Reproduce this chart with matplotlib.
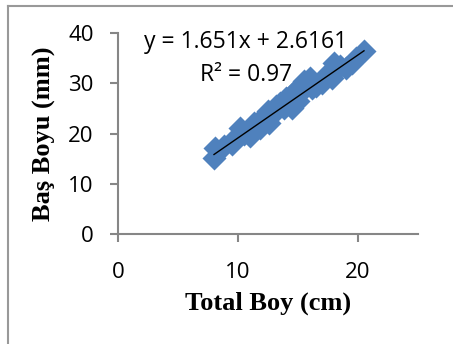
import matplotlib
matplotlib.use("Agg")
import matplotlib.pyplot as plt
from matplotlib.lines import Line2D
import numpy as np

total_boy = [8.0, 8.1, 8.8, 9.5, 9.9, 10.2, 10.5, 11.0, 11.3, 11.5, 11.8, 12.0, 12.3,
             12.5, 12.6, 13.0, 13.2, 13.5, 13.8, 14.0, 14.3, 14.5, 14.6, 15.0, 15.0,
             15.3, 15.5, 16.0, 16.2, 16.5, 17.0, 17.3, 17.5, 17.8, 18.0, 18.3, 18.5,
             19.0, 19.5, 19.8, 20.5]
bas_boyu = [15.2, 17.2, 17.5, 18.0, 19.5, 21.0, 20.0, 19.5, 22.0, 21.5, 21.0, 23.0, 22.5,
            24.5, 22.0, 24.0, 25.5, 26.0, 25.0, 27.0, 26.5, 25.0, 28.0, 29.0, 26.5,
            28.5, 30.5, 31.0, 29.0, 29.5, 30.0, 31.5, 32.0, 31.0, 34.0, 33.0, 33.5,
            33.0, 34.0, 35.0, 36.5]
slope = 1.651
intercept = 2.6161
r2 = 0.97
x_ticks = [0, 10, 20]
y_ticks = [0, 10, 20, 30, 40]

fig = plt.figure(figsize=(4.53, 3.44), dpi=100)
ax = fig.add_axes([0.2605, 0.3198, 0.9227 - 0.2605, 0.904 - 0.3198])

ax.scatter(total_boy, bas_boyu, marker='D', s=150, color='#4F81BD', linewidths=0, zorder=2)
xs = np.array([min(total_boy), max(total_boy)])
ax.plot(xs, slope * xs + intercept, color='black', lw=1.0, zorder=3)

ax.set_xlim(0, 25)
ax.set_ylim(0, 40)
ax.set_xticks(x_ticks)
ax.set_yticks(y_ticks)
for s in ['top', 'right']:
    ax.spines[s].set_visible(False)
for s in ['left', 'bottom']:
    ax.spines[s].set_color('#868686')
    ax.spines[s].set_linewidth(1.5)
ax.tick_params(direction='out', length=5.5, width=1.5, color='#868686',
               labelsize=16)
ax.tick_params(axis='y', pad=12)
ax.tick_params(axis='x', pad=15)
for lab in ax.get_xticklabels() + ax.get_yticklabels():
    lab.set_fontfamily('Open Sans')

ax.set_xlabel('Total Boy (cm)', fontfamily='Liberation Serif', fontweight='bold',
              fontsize=19, labelpad=6)
ax.set_ylabel('Baş Boyu (mm)', fontfamily='Liberation Serif', fontweight='bold',
              fontsize=19, labelpad=9)

ax.text(10.67, 38.2, f'y = {slope}x + {intercept}', fontfamily='Open Sans', fontsize=16.5,
        ha='center', va='center')
ax.text(10.67, 31.6, f'R² = {r2}', fontfamily='Open Sans', fontsize=16.5,
        ha='center', va='center')

# figure border (top and left)
fig.add_artist(Line2D([8/453, 8/453], [0, 1 - 6/344], transform=fig.transFigure,
                      color='#999999', lw=1.5))
fig.add_artist(Line2D([8/453, 1], [1 - 6/344, 1 - 6/344], transform=fig.transFigure,
                      color='#999999', lw=1.5))

fig.savefig('out.png', dpi=100)
